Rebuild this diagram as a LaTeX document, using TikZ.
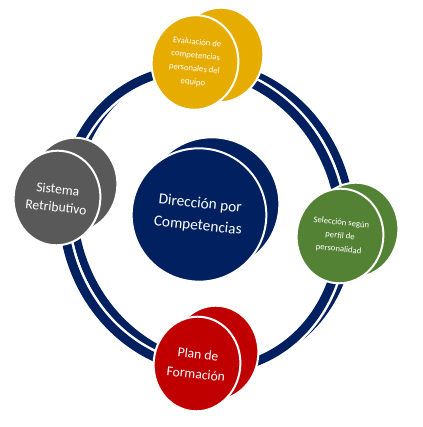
\documentclass[tikz,border=0pt]{standalone}
\usepackage{fontspec}
\setsansfont{Carlito}
\usetikzlibrary{shapes.geometric}
\definecolor{DirNavy}{HTML}{002060}
\definecolor{DirGold}{HTML}{E6AC00}
\definecolor{DirGreen}{HTML}{548235}
\definecolor{DirRed}{HTML}{C00000}
\definecolor{DirGrey}{HTML}{595959}
\tikzset{
  every node/.style={font=\sffamily, text=white},
  ringback/.style={draw=DirNavy, line width=6pt},
  ringgap/.style={draw=white, line width=10.5pt},
  ringfront/.style={draw=DirNavy, line width=6.75pt},
  disc/.style={ellipse, draw=white, line width=1.5pt, inner sep=0pt, minimum width=65pt, minimum height=71pt, rotate=-6, align=center},
  bigdisc/.style={disc, minimum width=101pt, minimum height=100pt},
  smalltext/.style={font=\sffamily\fontsize{6.5}{10}\selectfont},
  midtext/.style={font=\sffamily\fontsize{10.2}{13.5}\selectfont},
}

\begin{document}
\begin{tikzpicture}[x=0.75pt,y=0.75pt]
  \useasboundingbox (0,0) rectangle (422,427);
  % ring: back band, then front band with a white edge
  \draw[ringback, rotate around={20:(212,212.5)}] (212,212.5) ellipse [x radius=137, y radius=152];
  \draw[ringgap, rotate around={20:(202,207.5)}] (202,207.5) ellipse [x radius=137, y radius=152];
  \draw[ringfront, rotate around={20:(202,207.5)}] (202,207.5) ellipse [x radius=137, y radius=152];
  % centre
  \node[bigdisc, fill=DirNavy] (dirBack) at (212,223) {};
  \node[bigdisc, fill=DirNavy, font=\sffamily\fontsize{11.5}{16.5}\selectfont] (dir) at (199,212) {Dirección por\\Competencias};
  % top
  \node[disc, fill=DirGold] (evalBack) at (220,372) {};
  \node[disc, fill=DirGold, smalltext] (eval) at (195,364.5) {Evaluación de\\competencias\\personales del\\equipo};
  % right
  \node[disc, fill=DirGreen] (selBack) at (355,197) {};
  \node[disc, fill=DirGreen, smalltext] (sel) at (340,191) {Selección según\\perfil de\\personalidad};
  % bottom
  \node[disc, fill=DirRed] (planBack) at (215,74) {};
  \node[disc, fill=DirRed, font=\sffamily\fontsize{10.2}{15}\selectfont] (plan) at (197,63) {Plan de\\Formación};
  % left
  \node[disc, fill=DirGrey] (sisBack) at (74,242) {};
  \node[disc, fill=DirGrey, midtext] (sis) at (57,229) {Sistema\\Retributivo};
\end{tikzpicture}
\end{document}
